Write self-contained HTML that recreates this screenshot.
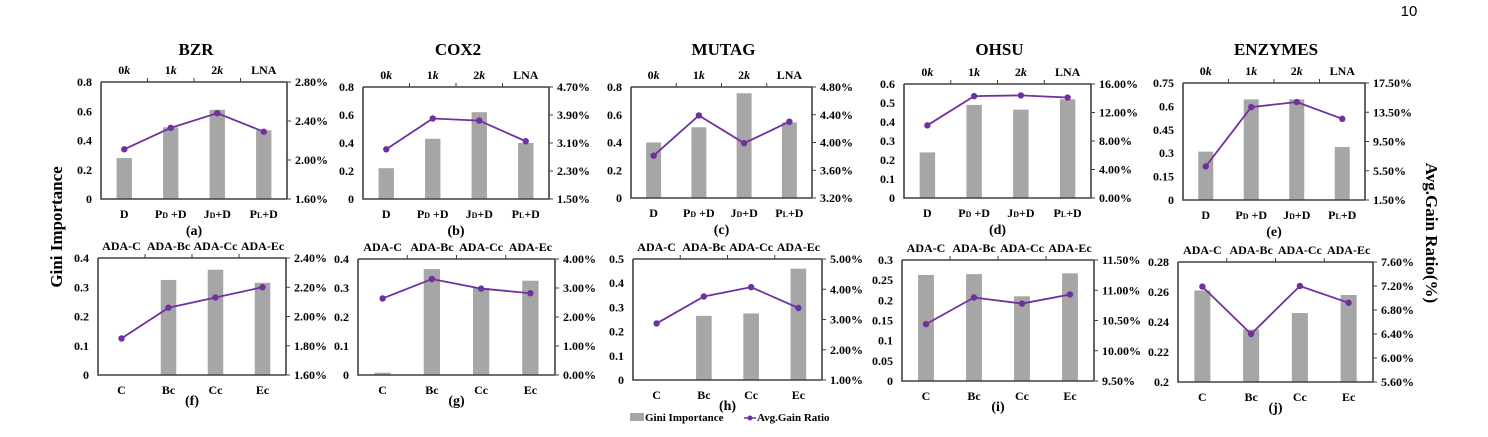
<!DOCTYPE html>
<html><head><meta charset="utf-8"><style>
html,body{margin:0;padding:0;background:#fff;}
svg{display:block;font-family:"Liberation Serif",serif;}
</style></head><body>
<svg id="fig" width="1488" height="437" viewBox="0 0 1488 437" xmlns="http://www.w3.org/2000/svg">
<text x="1409" y="16" font-family="Liberation Sans, sans-serif" font-size="15" text-anchor="middle">10</text>
<text transform="translate(62,227) rotate(-90)" font-size="17" font-weight="bold" text-anchor="middle">Gini Importance</text>
<text transform="translate(1426,233) rotate(90)" font-size="17" font-weight="bold" text-anchor="middle">Avg.Gain Ratio(%)</text>
<g>
<rect x="630" y="413" width="14" height="8" fill="#a6a6a6"></rect>
<text x="645" y="421" font-size="11" font-weight="bold">Gini Importance</text>
<line x1="744" y1="418" x2="756" y2="418" stroke="#7030a0" stroke-width="1.5"></line>
<circle cx="750" cy="418" r="2.5" fill="#7030a0"></circle>
<text x="757" y="421" font-size="11" font-weight="bold">Avg.Gain Ratio</text>
</g>
</svg>
<script>
// ---- data ----
const topCats = ["D","P|D| +D","J|D|+D","P|L|+D"];
const topTop = ["0k","1k","2k","LNA"];
const botCats = ["C","Bc","Cc","Ec"];
const botTop = ["ADA-C","ADA-Bc","ADA-Cc","ADA-Ec"];
const titles = ["BZR","COX2","MUTAG","OHSU","ENZYMES"];
const subLabels = ["(a)","(b)","(c)","(d)","(e)","(f)","(g)","(h)","(i)","(j)"];

const giniA = [0.28,0.49,0.61,0.47];   const ratioA = [2.11,2.33,2.48,2.29];
const giniB = [0.22,0.43,0.62,0.40];   const ratioB = [2.92,3.80,3.74,3.15];
const giniC = [0.40,0.51,0.755,0.545]; const ratioC = [3.81,4.39,3.99,4.30];
const giniD = [0.24,0.49,0.465,0.52];  const ratioD = [10.2,14.3,14.4,14.1];
const giniE = [0.31,0.645,0.645,0.34]; const ratioE = [6.1,14.2,14.9,12.6];
const giniF = [0,0.325,0.36,0.315];    const ratioF = [1.85,2.06,2.13,2.20];
const giniG = [0.008,0.365,0.30,0.325];const ratioG = [2.64,3.31,2.98,2.82];
const giniH = [0,0.265,0.275,0.46];    const ratioH = [2.87,3.76,4.07,3.38];
const giniI = [0.263,0.265,0.21,0.267];const ratioI = [10.44,10.88,10.78,10.93];
const giniJ = [0.261,0.235,0.246,0.258];const ratioJ = [7.19,6.40,7.20,6.92];

const leftTicksA = ["0","0.2","0.4","0.6","0.8"]; const rightTicksA = ["1.60%","2.00%","2.40%","2.80%"];
const leftTicksB = ["0","0.2","0.4","0.6","0.8"]; const rightTicksB = ["1.50%","2.30%","3.10%","3.90%","4.70%"];
const leftTicksC = ["0","0.2","0.4","0.6","0.8"]; const rightTicksC = ["3.20%","3.60%","4.00%","4.40%","4.80%"];
const leftTicksD = ["0","0.1","0.2","0.3","0.4","0.5","0.6"]; const rightTicksD = ["0.00%","4.00%","8.00%","12.00%","16.00%"];
const leftTicksE = ["0","0.15","0.3","0.45","0.6","0.75"]; const rightTicksE = ["1.50%","5.50%","9.50%","13.50%","17.50%"];
const leftTicksF = ["0","0.1","0.2","0.3","0.4"]; const rightTicksF = ["1.60%","1.80%","2.00%","2.20%","2.40%"];
const leftTicksG = ["0","0.1","0.2","0.3","0.4"]; const rightTicksG = ["0.00%","1.00%","2.00%","3.00%","4.00%"];
const leftTicksH = ["0","0.1","0.2","0.3","0.4","0.5"]; const rightTicksH = ["1.00%","2.00%","3.00%","4.00%","5.00%"];
const leftTicksI = ["0","0.05","0.1","0.15","0.2","0.25","0.3"]; const rightTicksI = ["9.50%","10.00%","10.50%","11.00%","11.50%"];
const leftTicksJ = ["0.2","0.22","0.24","0.26","0.28"]; const rightTicksJ = ["5.60%","6.00%","6.40%","6.80%","7.20%","7.60%"];

// ---- layout (pixel boxes) ----
const panels = [
 {box:[101,287,82,199], g:giniA, r:ratioA, lt:leftTicksA, rt:rightTicksA, row:0, i:0},
 {box:[363,549,87,199], g:giniB, r:ratioB, lt:leftTicksB, rt:rightTicksB, row:0, i:1},
 {box:[631,812,87,198], g:giniC, r:ratioC, lt:leftTicksC, rt:rightTicksC, row:0, i:2},
 {box:[904,1091,84,198], g:giniD, r:ratioD, lt:leftTicksD, rt:rightTicksD, row:0, i:3},
 {box:[1183,1365,83,200], g:giniE, r:ratioE, lt:leftTicksE, rt:rightTicksE, row:0, i:4},
 {box:[98,286,258,375], g:giniF, r:ratioF, lt:leftTicksF, rt:rightTicksF, row:1, i:5},
 {box:[358,555,259,375], g:giniG, r:ratioG, lt:leftTicksG, rt:rightTicksG, row:1, i:6},
 {box:[633,822,259,380], g:giniH, r:ratioH, lt:leftTicksH, rt:rightTicksH, row:1, i:7},
 {box:[902,1094,260,381], g:giniI, r:ratioI, lt:leftTicksI, rt:rightTicksI, row:1, i:8},
 {box:[1178,1373,262,382], g:giniJ, r:ratioJ, lt:leftTicksJ, rt:rightTicksJ, row:1, i:9}
];
const NS = "http://www.w3.org/2000/svg";
const svg = document.getElementById('fig');
function mk(tag, attrs, parent, txt){
  const e = document.createElementNS(NS, tag);
  for (const k in attrs) e.setAttribute(k, attrs[k]);
  if (txt !== undefined) e.textContent = txt;
  parent.appendChild(e); return e;
}
function catLabel(parent, x, y, s){
  const parts = s.split('|');
  const t = mk('text', {x:x, y:y, 'font-size':12, 'font-weight':'bold', 'text-anchor':'middle'}, parent);
  
  
  parts.forEach((p, k) => {
    const ts = mk('tspan', k===1 ? {'font-size':8} : {}, t, p);
  });
  return t;
}
const AX = "#404040";
panels.forEach(p => {
  const [L,R,T,B] = p.box;
  const g = mk('g', {}, svg);
  
  
  const lmin = parseFloat(p.lt[0]), lmax = parseFloat(p.lt[p.lt.length-1]);
  const rmin = parseFloat(p.rt[0]), rmax = parseFloat(p.rt[p.rt.length-1]);
  const yL = v => B - (v - lmin)/(lmax - lmin)*(B - T);
  const yR = v => B - (v - rmin)/(rmax - rmin)*(B - T);
  const cw = (R - L)/4;
  const xC = k => L + cw*(k + 0.5);
  const bw = cw*0.33;
  // bars
  p.g.forEach((v,k) => {
    const y = yL(v);
    const b = mk('rect', {x:xC(k)-bw/2, y:y, width:bw, height:Math.max(0,B-y), fill:'#a6a6a6'}, g);
    
    
  });
  // axes
  const ax = mk('path', {d:`M${L},${T} L${L},${B} L${R},${B} M${L},${T} L${R},${T} M${R},${T} L${R},${B}`, stroke:AX, 'stroke-width':1.6, fill:'none'}, g);
  
  
  for (let k=1;k<4;k++){
    mk('line', {x1:L+cw*k, x2:L+cw*k, y1:T, y2:T-4, stroke:AX, 'stroke-width':1}, g);
  }
  // left ticks
  p.lt.forEach(s => {
    const t = mk('text', {x:L-9, y:yL(parseFloat(s))+4, 'font-size':12, 'font-weight':'bold', 'text-anchor':'end'}, g, s);
    
    
  });
  // right ticks
  p.rt.forEach(s => {
    const y = yR(parseFloat(s));
    mk('line', {x1:R, x2:R+4, y1:y, y2:y, stroke:AX, 'stroke-width':1}, g);
    const t = mk('text', {x:R+8, y:y+4, 'font-size':12, 'font-weight':'bold'}, g, s);
    
    
  });
  // line
  const pts = p.r.map((v,k) => xC(k)+','+yR(v)).join(' ');
  const pl = mk('polyline', {points:pts, fill:'none', stroke:'#7030a0', 'stroke-width':1.8}, g);
  
  
  p.r.forEach((v,k) => {
    const c = mk('circle', {cx:xC(k), cy:yR(v), r:3.2, fill:'#7030a0'}, g);
    
    
  });
  // category labels
  const cats = p.row===0 ? topCats : botCats;
  const tops = p.row===0 ? topTop : botTop;
  cats.forEach((s,k) => catLabel(g, xC(k), B+19, s));
  tops.forEach((s,k) => {
    const t = mk('text', {x:xC(k), y:T-8, 'font-size':12, 'font-weight':'bold', 'text-anchor':'middle'}, g);
    
    
    const m = s.match(/^(\d)(k)$/);
    if (m){ mk('tspan', {}, t, m[1]); mk('tspan', {'font-style':'italic'}, t, m[2]); }
    else t.textContent = s;
  });
  const sl = mk('text', {x:(L+R)/2, y:B+(p.row===0?36:30), 'font-size':14, 'font-weight':'bold', 'text-anchor':'middle'}, g, subLabels[p.i]);
  
  
  if (p.row===0){
    const tt = mk('text', {x:(L+R)/2+2, y:55, 'font-size':17, 'font-weight':'bold', 'text-anchor':'middle'}, g, titles[p.i]);
    
    
  }
});
</script>
</body></html>
